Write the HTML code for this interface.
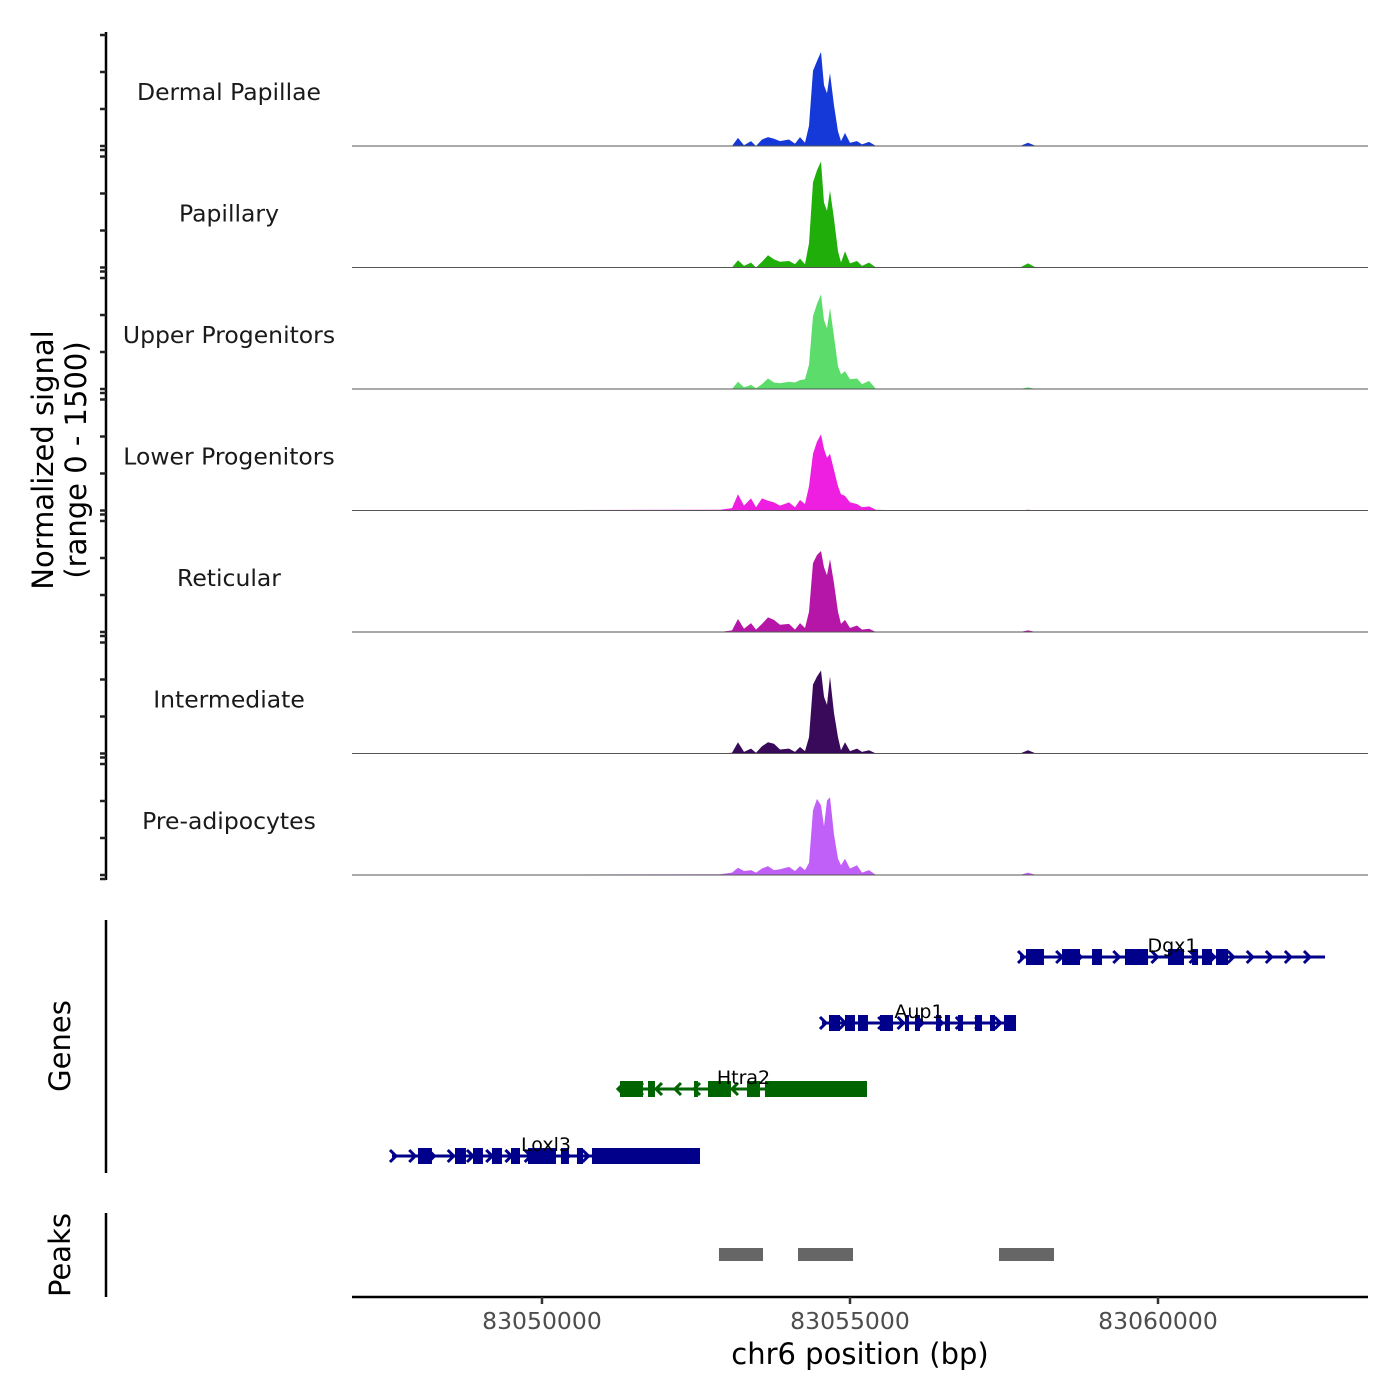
<!DOCTYPE html>
<html><head><meta charset="utf-8"><style>
html,body{margin:0;padding:0;background:#fff;}
svg{display:block;font-family:"DejaVu Sans","Liberation Sans",sans-serif;}
</style></head><body>
<svg id="chart" width="1400" height="1400" viewBox="0 0 1400 1400" xmlns="http://www.w3.org/2000/svg">
<rect width="1400" height="1400" fill="#fff"/>
<g id="tracks"></g>
<g id="genes"></g>
<g id="peaks"></g>
<g id="axes"></g>
<text transform="translate(53,460) rotate(-90)" text-anchor="middle" font-size="29" fill="#000">Normalized signal</text>
<text transform="translate(86,460) rotate(-90)" text-anchor="middle" font-size="29" fill="#000">(range 0 - 1500)</text>
<text transform="translate(70,1046) rotate(-90)" text-anchor="middle" font-size="29" fill="#000">Genes</text>
<text transform="translate(70,1255) rotate(-90)" text-anchor="middle" font-size="29" fill="#000">Peaks</text>
<text x="860" y="1364" text-anchor="middle" font-size="29" fill="#000">chr6 position (bp)</text>
</svg>
<script>
const trackNames = ["Dermal Papillae","Papillary","Upper Progenitors","Lower Progenitors","Reticular","Intermediate","Pre-adipocytes"];
const trackColors = ["#1538d8","#1fae0a","#5cdc6a","#ee1fe0","#b516a8","#3a0a5a","#c060f8"];
const positions = [83046916,83052890,83053084,83053182,83053279,83053393,83053474,83053571,83053669,83053766,83053864,83054010,83054107,83054188,83054269,83054334,83054399,83054464,83054529,83054578,83054627,83054675,83054740,83054805,83054854,83054919,83055000,83055114,83055195,83055308,83055422,83055812,83057760,83057890,83058020,83063409];
const sigDermal = [0,0,0,100,10,60,0,80,110,90,60,80,30,110,40,250,930,1050,1160,750,650,900,500,180,60,160,40,60,20,50,0,0,0,40,0,0];
const sigPapillary = [0,0,0,90,20,60,0,70,150,100,70,80,40,110,40,300,1050,1200,1310,800,700,950,600,200,60,200,50,80,20,60,0,0,0,50,0,0];
const sigUpper = [0,0,0,90,20,50,10,60,130,80,70,90,80,110,120,300,900,1050,1170,850,750,1000,650,280,180,220,120,130,60,100,0,0,0,20,0,0];
const sigLower = [0,10,30,200,60,150,40,150,120,100,60,100,40,130,80,300,700,850,940,760,650,700,500,300,200,180,100,80,40,50,10,0,0,10,0,0];
const sigReticular = [0,0,20,160,40,110,30,100,180,150,90,100,30,110,50,250,850,950,1000,800,700,900,600,250,100,150,50,80,30,40,0,0,0,20,0,0];
const sigIntermediate = [0,0,10,140,20,60,10,90,140,120,50,60,20,80,30,200,850,950,1025,700,600,950,500,200,40,140,30,60,20,40,0,0,0,40,0,0];
const sigPreadipo = [0,10,30,90,50,60,30,80,110,60,70,100,50,110,60,150,800,940,860,600,920,960,500,200,120,200,80,120,30,60,0,0,0,30,0,0];
const xTicks = [83050000,83055000,83060000];
const geneNames = ["Dgx1","Aup1","Htra2","Loxl3"];
const geneStrand = [1,1,-1,1];
const geneColors = ["#00008b","#00008b","#006400","#00008b"];
const geneStart = [83057760,83054545,83051266,83047565];
const geneEnd = [83062711,83057695,83055276,83052565];
const geneExons = [
 [[83057857,83058149],[83058442,83058734],[83058929,83059091],[83059464,83059838],[83060162,83060422],[83060552,83060650],[83060714,83060877],[83060942,83061137]],
 [[83054659,83054838],[83054919,83055081],[83055130,83055292],[83055487,83055698],[83055893,83055958],[83056055,83056136],[83056396,83056477],[83056542,83056623],[83056753,83056835],[83057029,83057143],[83057273,83057354],[83057500,83057695]],
 [[83051266,83051640],[83051721,83051834],[83052468,83052532],[83052695,83053068],[83053328,83053539],[83053620,83055276]],
 [[83047987,83048214],[83048588,83048766],[83048880,83049042],[83049188,83049351],[83049497,83049643],[83049773,83050227],[83050308,83050438],[83050568,83050666],[83050812,83052565]]
];
const peakStart = [83052873,83054156,83057419];
const peakEnd = [83053588,83055049,83058312];

const signals = [sigDermal,sigPapillary,sigUpper,sigLower,sigReticular,sigIntermediate,sigPreadipo];
const NS="http://www.w3.org/2000/svg";
const X0=352,X1=1368,BP0=83046916,BP1=83063409;
function xs(bp){return X0+(bp-BP0)/(BP1-BP0)*(X1-X0);}
const TRACK_H=121.5, FIRST_BASE=146, YMAX=1500;
function ys(i,v){return FIRST_BASE+i*TRACK_H - v/YMAX*TRACK_H;}
function mk(tag,attrs,parent){const e=document.createElementNS(NS,tag);for(const k in attrs)e.setAttribute(k,attrs[k]);parent.appendChild(e);return e;}

const tg=document.getElementById('tracks');
signals.forEach((s,i)=>{
  const base=ys(i,0);
  let d='M'+xs(positions[0])+','+base;
  s.forEach((v,j)=>{d+=' L'+xs(positions[j]).toFixed(1)+','+ys(i,v).toFixed(1);});
  d+=' L'+xs(positions[positions.length-1])+','+base+' Z';
  const p=mk('path',{d:d,fill:trackColors[i]},tg);
  
  
  const l=mk('line',{x1:X0,x2:X1,y1:base,y2:base,stroke:'#555','stroke-width':1},tg);
  
  
  const t=mk('text',{x:229,y:base-46,'text-anchor':'middle','font-size':23.5,fill:'#1a1a1a'},tg);
  t.textContent=trackNames[i];
  
  
});

const ax=document.getElementById('axes');
let l=mk('line',{x1:106,x2:106,y1:32,y2:880,stroke:'#000','stroke-width':2.5},ax);


for(let i=0;i<7;i++){
  const base=ys(i,0);
  for(let k=0;k<4;k++){
    const tk=mk('line',{x1:100,x2:106,y1:base-k*37,y2:base-k*37,stroke:'#222','stroke-width':2.5},ax);
    
    
  }
  const tt=mk('line',{x1:100,x2:106,y1:base+4,y2:base+4,stroke:'#222','stroke-width':2.5},ax);
  
  
}
l=mk('line',{x1:106,x2:106,y1:920,y2:1173,stroke:'#000','stroke-width':2.5},ax);


l=mk('line',{x1:106,x2:106,y1:1213,y2:1297,stroke:'#000','stroke-width':2.5},ax);


l=mk('line',{x1:X0,x2:X1,y1:1297,y2:1297,stroke:'#000','stroke-width':2.5},ax);


xTicks.forEach(v=>{
  const tk=mk('line',{x1:xs(v),x2:xs(v),y1:1297,y2:1304,stroke:'#333','stroke-width':2.5},ax);
  
  
  const t=mk('text',{x:xs(v),y:1329,'text-anchor':'middle','font-size':23.5,fill:'#4d4d4d'},ax);
  t.textContent=String(v);
  
  
});

const gg=document.getElementById('genes');
const geneY=[957,1023,1089,1156];
geneNames.forEach((n,i)=>{
  const y=geneY[i],c=geneColors[i];
  const g=mk('g',{},gg);
  
  
  mk('line',{x1:xs(geneStart[i]),x2:xs(geneEnd[i]),y1:y,y2:y,stroke:c,'stroke-width':3},g);
  const s=geneStrand[i];
  const a0=xs(geneStart[i]),a1=xs(geneEnd[i]);
  for(let x=a0+4;x<=a1+1;x+=(a1-a0)/Math.max(4,Math.round((a1-a0)/19))){
    const tip=s>0?x:x-6;
    const d=s>0?`M${tip-6},${y-6} L${tip},${y} L${tip-6},${y+6}`:`M${tip+6},${y-6} L${tip},${y} L${tip+6},${y+6}`;
    mk('path',{d:d,fill:'none',stroke:c,'stroke-width':3},g);
  }
  geneExons[i].forEach(e=>{
    mk('rect',{x:xs(e[0]),y:y-8,width:Math.max(3,xs(e[1])-xs(e[0])),height:16,fill:c},g);
  });
  const mid=(xs(geneStart[i])+xs(geneEnd[i]))/2;
  const t=mk('text',{x:mid,y:y-5,'text-anchor':'middle','font-size':19,fill:'#000'},g);
  t.textContent=n;
  
  
});

const pg=document.getElementById('peaks');
peakStart.forEach((s,i)=>{
  const r=mk('rect',{x:xs(s),y:1248,width:xs(peakEnd[i])-xs(s),height:13,fill:'#666'},pg);
  
  
});
</script>
</body></html>
